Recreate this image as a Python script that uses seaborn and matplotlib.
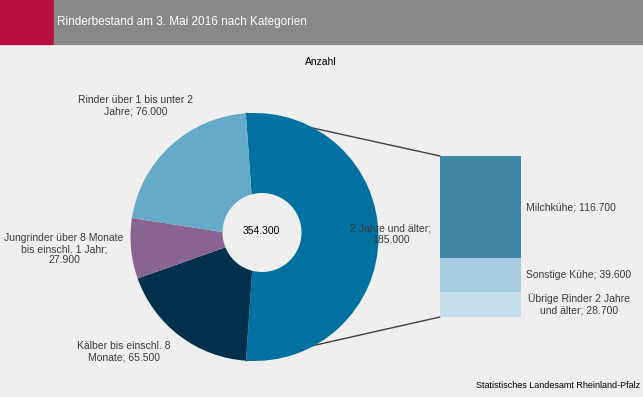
import matplotlib
matplotlib.use("Agg")
import matplotlib.pyplot as plt
import seaborn as sns
from matplotlib.patches import Rectangle, Circle, ConnectionPatch
import numpy as np

# data
pie_labels = ["2 Jahre und älter;\n185.000", "Kälber bis einschl. 8\nMonate; 65.500",
              "Jungrinder über 8 Monate\nbis einschl. 1 Jahr;\n27.900",
              "Rinder über 1 bis unter 2\nJahre; 76.000"]
pie_values = [185000, 65500, 27900, 76000]
bar_labels = ["Übrige Rinder 2 Jahre\nund älter; 28.700", "Sonstige Kühe; 39.600", "Milchkühe; 116.700"]
bar_values = [28700, 39600, 116700]
total_label = "354.300"

W, H = 643, 397
bg = "#EEEFEE"
pie_colors = ["#0071A1", "#00304B", "#8A6490", "#65AAC8"]
bar_colors = ["#C4DEEC", "#A5CCE0", "#3D86A6"]

sns.set_style("white")
plt.rcParams["font.family"] = ["Liberation Sans", "DejaVu Sans"]

fig = plt.figure(figsize=(W / 100, H / 100), dpi=100, facecolor=bg)


def fx(x):
    return x / W


def fy(y):
    return 1 - y / H


# header band
fig.patches.append(Rectangle((0, fy(44)), 1, 44 / H, transform=fig.transFigure,
                             color="white", zorder=0))
fig.patches.append(Rectangle((0, fy(44)), fx(53), 44 / H, transform=fig.transFigure,
                             color="#B7103E", zorder=0))
fig.patches.append(Rectangle((fx(54), fy(44)), 1 - fx(54), 44 / H, transform=fig.transFigure,
                             color="#888888", zorder=0))
fig.text(fx(57), fy(22.5), "Rinderbestand am 3. Mai 2016 nach Kategorien", color="white",
         fontsize=8.5, ha="left", va="center")

# pie
cx, cy, r = 254.5, 237, 124
pax = fig.add_axes([fx(cx - r), fy(cy + r), 2 * r / W, 2 * r / H])
wedges, _ = pax.pie(pie_values, colors=pie_colors, counterclock=False, startangle=94,
                    radius=1, wedgeprops=dict(linewidth=0))
pax.set_xlim(-1, 1)
pax.set_ylim(-1, 1)
pax.set_aspect("equal")
pax.axis("off")
pax.add_patch(Circle(((262 - cx) / r, (cy - 232.5) / r), 39.5 / r, color=bg, lw=0, zorder=3))

# stacked bar
bax = fig.add_axes([fx(440), fy(317), 81 / W, 161 / H])
bottoms = np.concatenate([[0], np.cumsum(bar_values)[:-1]])
bax.bar(0, bar_values, bottom=bottoms, width=1, color=bar_colors, linewidth=0)
bax.set_xlim(-0.5, 0.5)
bax.set_ylim(0, sum(bar_values))
bax.axis("off")

# connector lines
w0 = wedges[0]
for ang, yb in [(w0.theta2, sum(bar_values)), (w0.theta1, 0)]:
    p = (np.cos(np.radians(ang)), np.sin(np.radians(ang)))
    con = ConnectionPatch(xyA=p, coordsA=pax.transData, xyB=(-0.5, yb), coordsB=bax.transData,
                          color="#404040", lw=1, zorder=0)
    pax.add_artist(con)
    con.set_clip_on(False)

# labels
lab = dict(fontsize=7.5, color="#3A3A3A", ha="center", va="center", linespacing=1.15)
fig.text(fx(321), fy(62), "Anzahl", fontsize=7.5, color="black", ha="center", va="center")
fig.text(fx(391), fy(234), pie_labels[0], **lab)
fig.text(fx(124), fy(352), pie_labels[1], **lab)
fig.text(fx(64), fy(249), pie_labels[2], **lab)
fig.text(fx(136), fy(105.5), pie_labels[3], **lab)
fig.text(fx(261), fy(231), total_label, fontsize=7.5, color="black", ha="center", va="center")
fig.text(fx(579), fy(304), bar_labels[0], **lab)
fig.text(fx(526), fy(275), bar_labels[1], fontsize=7.5, color="#3A3A3A", ha="left", va="center")
fig.text(fx(526), fy(207), bar_labels[2], fontsize=7.5, color="#3A3A3A", ha="left", va="center")
fig.text(fx(640), fy(386), "Statistisches Landesamt Rheinland-Pfalz", fontsize=6.5,
         color="black", ha="right", va="center")

fig.savefig("out.png", dpi=100, facecolor=bg)
